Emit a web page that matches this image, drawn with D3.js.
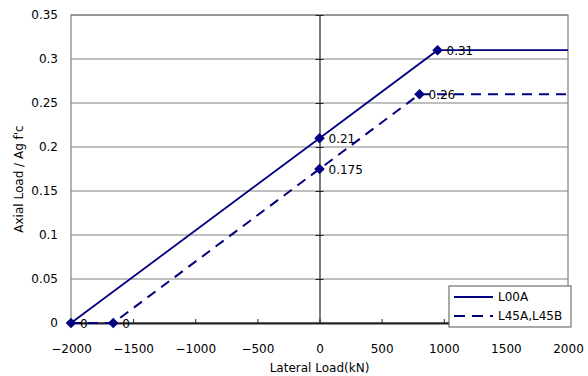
<!DOCTYPE html>
<html>
<head>
<meta charset="utf-8">
<script src="https://cdn.jsdelivr.net/npm/d3@7"></script>
<style>
  body { margin: 0; background: #fff; }
  svg text { font-family: "DejaVu Sans", sans-serif; font-size: 12px; fill: #000; }
</style>
</head>
<body>
<div id="chart"></div>
<script>
// series data (lateral load kN, axial load ratio)
const seriesNames = ["L00A", "L45A,L45B"];
const l00aX = [-2000, 0, 950, 2000];
const l00aY = [0, 0.21, 0.31, 0.31];
const l45X = [-2000, -1660, 0, 805, 2000];
const l45Y = [0, 0, 0.175, 0.26, 0.26];
// which points get a marker + value label
const l00aMarked = [0, 1, 2];
const l45Marked = [1, 2, 3];
const xTicks = [-2000, -1500, -1000, -500, 0, 500, 1000, 1500, 2000];
const yTicks = [0, 0.05, 0.1, 0.15, 0.2, 0.25, 0.3, 0.35];

const W = 588, H = 376;
const margin = {top: 15, right: 20, bottom: 53, left: 71};
const w = W - margin.left - margin.right;
const h = H - margin.top - margin.bottom;

const svg = d3.select("#chart").append("svg")
    .attr("width", W).attr("height", H);

const g = svg.append("g")
    .attr("transform", "translate(" + margin.left + "," + margin.top + ")");

const x = d3.scaleLinear().domain([-2000, 2000]).range([0, w]);
const y = d3.scaleLinear().domain([0, 0.35]).range([h, 0]);

// gridlines
g.append("g").selectAll("line")
    .data(yTicks)
    .join("line")
    .attr("x1", 0).attr("x2", w)
    .attr("y1", d => y(d)).attr("y2", d => y(d))
    .attr("stroke", "#808080").attr("stroke-width", 1.2);

// plot frame
g.append("rect")
    .attr("x", 0).attr("y", 0).attr("width", w).attr("height", h)
    .attr("fill", "none").attr("stroke", "#808080").attr("stroke-width", 1.2);

// x axis along y=0, ticks pointing up
const xAxis = g.append("g")
    .attr("transform", "translate(0," + y(0) + ")")
    .call(d3.axisBottom(x).tickValues(xTicks).tickSizeInner(-4).tickSizeOuter(0)
        .tickFormat(d => d3.format("")(d).replace("-", "\u2212")));
xAxis.select(".domain").attr("stroke", "#222").attr("stroke-width", 2);
xAxis.selectAll(".tick line").attr("stroke", "#222");
xAxis.selectAll(".tick text").attr("y", 21).style("font-size", "12px")
    .style("font-family", "DejaVu Sans");

// y axis crossing at x=0 with ticks, labels on the left side
const yAxis = g.append("g")
    .attr("transform", "translate(" + x(0) + ",0)")
    .call(d3.axisLeft(y).tickValues(yTicks).tickSizeInner(4).tickSizeOuter(0).tickFormat(() => ""));
yAxis.select(".domain").attr("stroke", "#222").attr("stroke-width", 1.2);
yAxis.selectAll(".tick line").attr("stroke", "#222").attr("x2", 4).attr("x1", -4);

g.append("g").selectAll("text")
    .data(yTicks)
    .join("text")
    .attr("x", -13).attr("y", d => y(d))
    .attr("dy", "0.35em")
    .attr("text-anchor", "end")
    .text(d => d3.format("")(d));

const line = d3.line().x(d => x(d[0])).y(d => y(d[1]));
const l00a = l00aX.map((v, i) => [v, l00aY[i]]);
const l45 = l45X.map((v, i) => [v, l45Y[i]]);

g.append("path").datum(l45)
    .attr("d", line).attr("fill", "none")
    .attr("stroke", "#000080").attr("stroke-width", 2)
    .attr("stroke-dasharray", "10,7");

g.append("path").datum(l00a)
    .attr("d", line).attr("fill", "none")
    .attr("stroke", "#000080").attr("stroke-width", 1.8);

const diamond = d3.symbol().type(d3.symbolDiamond2).size(72);
const marked = l00aMarked.map(i => l00a[i]).concat(l45Marked.map(i => l45[i]));

g.append("g").selectAll("path")
    .data(marked)
    .join("path")
    .attr("d", diamond)
    .attr("transform", d => "translate(" + x(d[0]) + "," + y(d[1]) + ")")
    .attr("fill", "#000080");

g.append("g").selectAll("text")
    .data(marked)
    .join("text")
    .attr("x", d => x(d[0]) + 9)
    .attr("y", d => y(d[1]) + 1)
    .attr("dy", "0.35em")
    .text(d => d3.format("")(d[1]));

// axis titles
svg.append("text")
    .attr("x", margin.left + x(0)).attr("y", 372)
    .attr("text-anchor", "middle")
    .text("Lateral Load(kN)");

svg.append("text")
    .attr("transform", "translate(23," + (margin.top + h / 2 + 10) + ") rotate(-90)")
    .attr("text-anchor", "middle")
    .text("Axial Load / Ag f'c");

// legend
const leg = svg.append("g").attr("transform", "translate(449,286)");
leg.append("rect")
    .attr("width", 122).attr("height", 41)
    .attr("fill", "#fff").attr("stroke", "#555").attr("stroke-width", 1);
const legItems = leg.selectAll("g.item")
    .data(seriesNames)
    .join("g")
    .attr("class", "item")
    .attr("transform", (d, i) => "translate(0," + (11 + i * 19) + ")");
legItems.append("line")
    .attr("x1", 5).attr("x2", 44)
    .attr("stroke", "#000080").attr("stroke-width", 2)
    .attr("stroke-dasharray", (d, i) => i ? "11,7" : null);
legItems.append("text")
    .attr("x", 49).attr("dy", "0.35em")
    .text(d => d);
</script>
</body>
</html>
